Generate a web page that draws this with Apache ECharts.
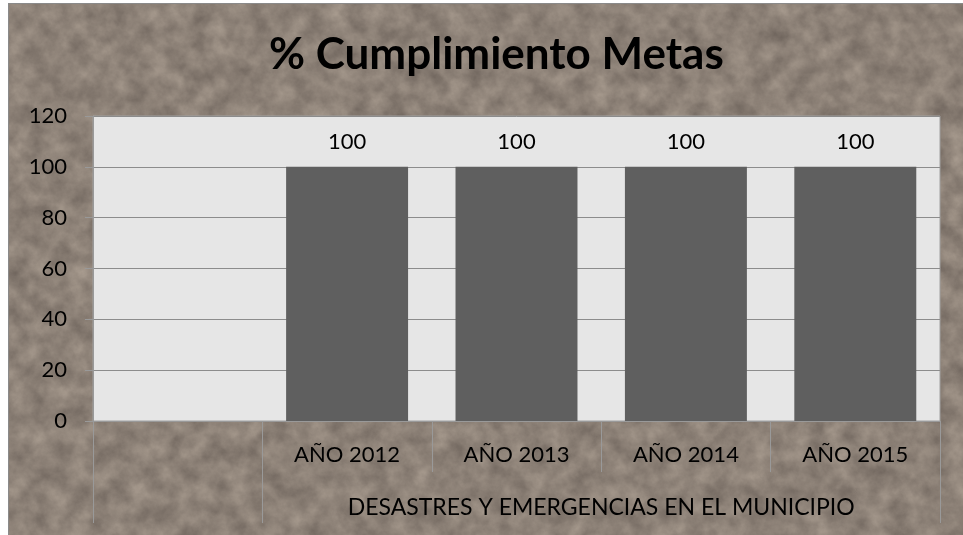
<!DOCTYPE html>
<html>
<head>
<meta charset="utf-8">
<script src="https://cdn.jsdelivr.net/npm/echarts@6/dist/echarts.min.js"></script>
<style>
  html, body { margin: 0; padding: 0; background: #fff; }
  .frame {
    position: absolute; left: 8px; top: 3px; width: 955px; height: 532px;
    border-left: 1px solid #8a8a8a; border-top: 1px solid #8a8a8a;
    background-color: #857a70;
    background-image: url("data:image/svg+xml;utf8,<svg xmlns='http://www.w3.org/2000/svg' width='955' height='532'><filter id='n' color-interpolation-filters='sRGB'><feTurbulence type='fractalNoise' baseFrequency='0.05' numOctaves='5' seed='7'/><feColorMatrix type='matrix' values='0.25 0 0 0 0.425  0.24 0 0 0 0.385  0.22 0 0 0 0.355  0 0 0 0 1'/></filter><rect width='100%25' height='100%25' filter='url(%23n)'/></svg>");
  }
  #chart { position: absolute; left: 0; top: 0; width: 963px; height: 535px; }
</style>
</head>
<body>
<div class="frame"></div>
<div id="chart"></div>
<script>
  // valores
  const categories = ['', 'AÑO 2012', 'AÑO 2013', 'AÑO 2014', 'AÑO 2015']
  const cumplimiento = ['-', 100, 100, 100, 100]
  const grupo = 'DESASTRES Y EMERGENCIAS EN EL MUNICIPIO'
  const yTicks = { min: 0, max: 120, interval: 20 }

  const fontFamily = 'Lato, "Open Sans", sans-serif'
  const chart = echarts.init(document.getElementById('chart'))
  chart.setOption({
    backgroundColor: 'transparent',
    textStyle: { fontFamily: fontFamily },
    title: {
      text: '% Cumplimiento Metas',
      left: 264,
      top: 28,
      textStyle: { fontSize: 44, fontWeight: 'bold', color: '#000', fontFamily: fontFamily }
    },
    grid: {
      left: 93,
      right: 23,
      top: 116,
      bottom: 114,
      show: true,
      backgroundColor: '#e6e6e6',
      borderColor: '#a0a0a0',
      borderWidth: 1
    },
    xAxis: [
      {
        type: 'category',
        data: categories,
        axisLine: { lineStyle: { color: '#999' } },
        axisTick: { show: true, interval: 0, length: 51, lineStyle: { color: '#999' } },
        axisLabel: { interval: 0, margin: 23, fontSize: 22, color: '#000' }
      },
      {
        type: 'value',
        position: 'bottom',
        min: 0,
        max: categories.length,
        axisLine: { show: false },
        splitLine: { show: false },
        axisTick: {
          show: true,
          length: 102,
          customValues: [0, 1, categories.length],
          lineStyle: { color: '#999' }
        },
        axisLabel: {
          margin: 75,
          fontSize: 23,
          color: '#000',
          customValues: [(1 + categories.length) / 2],
          formatter: function () { return grupo }
        }
      }
    ],
    yAxis: {
      type: 'value',
      min: yTicks.min,
      max: yTicks.max,
      interval: yTicks.interval,
      axisLine: { show: true, lineStyle: { color: '#999' } },
      axisTick: { show: true, length: 8, lineStyle: { color: '#999' } },
      splitLine: { lineStyle: { color: '#8c8c8c' } },
      axisLabel: { fontSize: 22, color: '#000', margin: 26 }
    },
    series: [
      {
        type: 'bar',
        xAxisIndex: 0,
        data: cumplimiento,
        barCategoryGap: '28%',
        itemStyle: { color: '#5f5f5f' },
        label: { show: true, position: 'top', distance: 14, fontSize: 22, color: '#000' }
      }
    ]
  })
</script>
</body>
</html>
